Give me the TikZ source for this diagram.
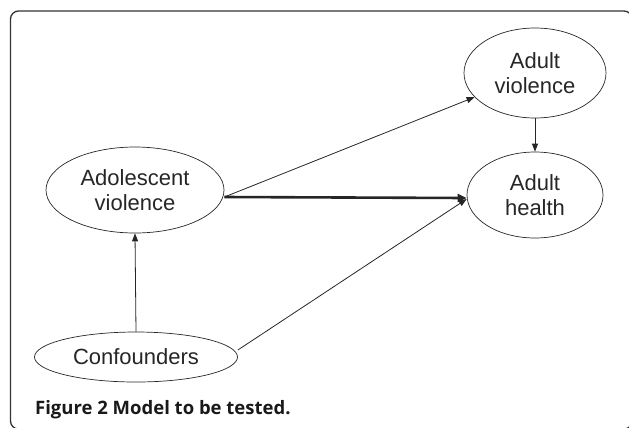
\documentclass[tikz,border=0pt]{standalone}
\usepackage{fontspec}
\setmainfont{Liberation Sans}
\newfontfamily\capfont{Open Sans}
\usetikzlibrary{arrows.meta,shapes.geometric}
\begin{document}
\begin{tikzpicture}[x=1bp,y=-1bp,
  oval/.style={draw=black!85,line width=0.7bp,ellipse,inner sep=0pt,align=center,
    font=\fontsize{22bp}{25bp}\selectfont,text=black!85},
  link/.style={draw=black!85,line width=0.8bp,-{Triangle[length=8bp,width=6bp]}},
  thick link/.style={link,line width=2.6bp,-{Triangle[length=9bp,width=8bp]}}]
\useasboundingbox (0,0) rectangle (629,427);
\begin{scope}
\clip (0,0) rectangle (629,427);
\draw[line width=1.3bp,black!80,rounded corners=8bp] (10.5,11) rectangle (632,429);
\end{scope}
\node[oval,minimum width=142bp,minimum height=90bp] (adv) at (535,73) {Adult\\violence};
\node[oval,minimum width=136bp,minimum height=86bp] (adh) at (535,195) {Adult\\health};
\node[oval,minimum width=178bp,minimum height=86bp] (ado) at (135,190) {Adolescent\\violence};
\node[oval,minimum width=203bp,minimum height=50bp] (conf) at (136,357) {Confounders};
\node[anchor=base west,inner sep=0pt,font=\capfont\bfseries\fontsize{18.5bp}{22bp}\selectfont,text=black!90] (cap) at (35,414) {Figure 2 Model to be tested.};
\draw[link] (conf.north) -- (ado.south);
\draw[link] ([yshift=-7bp]ado.east) -- (adv);
\draw[thick link] ([yshift=-7bp]ado.east) -- ([yshift=-3bp]adh.west);
\draw[link] ([yshift=7bp]conf.east) -- ([yshift=-4bp]adh.west);
\draw[link] (adv.south) -- (adh.north);
\end{tikzpicture}
\end{document}
